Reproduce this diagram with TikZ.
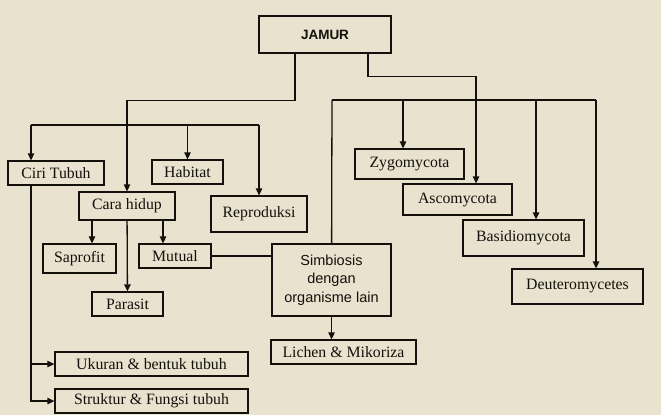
\documentclass[tikz,border=0pt]{standalone}
\usepackage{fontspec}
\setmainfont{Liberation Serif}
\setsansfont{Liberation Sans}
\usetikzlibrary{arrows.meta}
\definecolor{kertas}{RGB}{233,226,206}
\definecolor{garis}{RGB}{20,16,12}
\tikzset{every path/.style={line width=1.3pt}}
\tikzset{
  kotak/.style={draw, inner sep=0pt, align=center, font=\fontsize{15.8}{18}\selectfont},
  panah/.style={-{Triangle[width=6.5pt,length=7pt]}}
}

\begin{document}
\begin{tikzpicture}[x=1pt,y=-1pt,color=garis]
    \fill[kertas] (0,0) rectangle (661,415);
    \useasboundingbox (0,0) rectangle (661,415);

    \node[kotak, minimum width=132, minimum height=37, font=\sffamily\bfseries\fontsize{13.5}{16}\selectfont] (jamur) at (325,34.5) {JAMUR};

    \node[kotak, minimum width=96, minimum height=24] (ciri) at (56,173) {Ciri Tubuh};
    \node[kotak, minimum width=71, minimum height=24] (habitat) at (187.5,172) {Habitat};
    \node[kotak, minimum width=96, minimum height=28] (cara) at (127,206) {Cara hidup};
    \node[kotak, minimum width=96, minimum height=36] (repro) at (259,214) {Reproduksi};
    \node[kotak, minimum width=73, minimum height=29] (saprofit) at (79.5,258.5) {Saprofit};
    \node[kotak, minimum width=72, minimum height=24] (mutual) at (175,256) {Mutual};
    \node[kotak, minimum width=71, minimum height=24] (parasit) at (127.5,304) {Parasit};
    \node[kotak, minimum width=193, minimum height=24] (ukuran) at (151.5,364) {Ukuran \& bentuk tubuh};
    \node[kotak, minimum width=193, minimum height=24] (struktur) at (151.5,401) {Struktur \& Fungsi tubuh};

    \node[kotak, minimum width=119, minimum height=72, font=\sffamily\fontsize{14.5}{18.5}\selectfont] (simbiosis) at (331.5,280) {Simbiosis\\dengan\\organisme lain};
    \node[kotak, minimum width=145, minimum height=24] (lichen) at (343.5,352) {Lichen \& Mikoriza};

    \node[kotak, minimum width=109, minimum height=30] (zygo) at (409.5,164) {Zygomycota};
    \node[kotak, minimum width=109, minimum height=31] (asco) at (457.5,199.5) {Ascomycota};
    \node[kotak, minimum width=121, minimum height=36] (basidio) at (523.5,238) {Basidiomycota};
    \node[kotak, minimum width=131, minimum height=35] (deutero) at (577.5,286.5) {Deuteromycetes};

    % cabang kiri
    \draw[panah] ([xshift=-30]jamur.south) -- ++(0,47) -| (cara);
    \coordinate (b1) at (31,125);
    \coordinate (b2) at (259,125);
    \draw (b1) -- (b2);
    \draw[panah] (b1) -- (b1 |- ciri.north);
    \draw[panah] (habitat |- b1) -- (habitat);
    \draw[panah] (b2) -- (repro);
    \draw[panah] (ciri.south -| b1) |- (ukuran);
    \draw[panah] (ciri.south -| b1) |- (struktur);
    \draw[panah] (cara) -- (parasit);
    \draw[panah] ([xshift=-35]cara.south) -- ([xshift=-35]cara.south |- saprofit.north);
    \draw[panah] ([xshift=36]cara.south) -- ([xshift=36]cara.south |- mutual.north);
    \draw (mutual) -- (mutual -| simbiosis.west);

    % cabang kanan
    \draw[panah] ([xshift=43]jamur.south) -- ++(0,23) -| ([xshift=18.5]asco.north);
    \coordinate (b3) at (332,100);
    \coordinate (b4) at (596,100);
    \draw (b3) -- (b4);
    \draw (b3) -- (simbiosis);
    \draw[panah] ([xshift=-6.5]zygo.north |- b3) -- ([xshift=-6.5]zygo.north);
    \draw[panah] ([xshift=12.5]basidio.north |- b3) -- ([xshift=12.5]basidio.north);
    \draw[panah] (b4) -- (b4 |- deutero.north);
    \draw[panah] (simbiosis) -- (simbiosis |- lichen.north);
\end{tikzpicture}
\end{document}
